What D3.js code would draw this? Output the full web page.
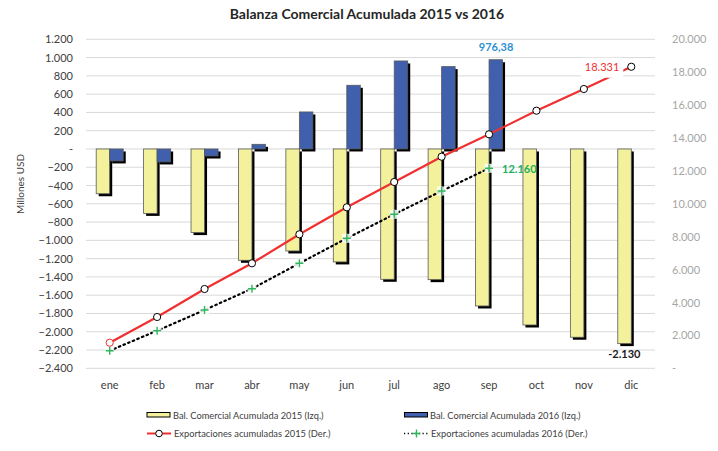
<!DOCTYPE html>
<html><head><meta charset="utf-8">
<script src="https://cdn.jsdelivr.net/npm/d3@7"></script>
<style>body{margin:0;background:#fff}svg{display:block}text{font-family:Lato,"Open Sans",sans-serif}</style>
</head><body><svg id="c" width="718" height="451"></svg>
<script>
const months = ["ene","feb","mar","abr","may","jun","jul","ago","sep","oct","nov","dic"];
const bal2015 = [-490,-705,-915,-1218,-1116,-1236,-1426,-1430,-1718,-1926,-2060,-2130];
const bal2016 = [-131,-142,-77,51,405,697,963,901,976.38];
const exp2015 = [1556,3119,4820,6383,8146,9787,11325,12863,14225,15660,16979,18331];
const exp2016 = [1070,2286,3544,4839,6383,7903,9362,10778,12160];
const leftTicks = d3.range(-2400,1201,200);
const rightTicks = d3.range(0,20001,2000);
const fmt = v => v===0 ? "-" : d3.format(",")(v).replace(/,/g,".");

const svg = d3.select("#c");
const L=86,R=655,T=39.3,B=368.3;
const x = d3.scaleBand().domain(months).range([L,R]).paddingInner(0.43).paddingOuter(0.215);
const yL = d3.scaleLinear().domain([-2400,1200]).range([B,T]);
const yR = d3.scaleLinear().domain([0,20000]).range([B,T]);
const cx = m => x(m)+x.bandwidth()/2;

svg.append("text").attr("x",367).attr("y",19).attr("text-anchor","middle")
  .attr("font-weight","bold").attr("font-size",14).attr("fill","#262626")
  .text("Balanza Comercial Acumulada 2015 vs 2016");

// gridlines
svg.append("g").selectAll("line").data(leftTicks).join("line")
  .attr("x1",L).attr("x2",R).attr("y1",d=>yL(d)).attr("y2",d=>yL(d))
  .attr("stroke","#d9d9d9").attr("stroke-width",1);

// left axis
const gl = svg.append("g").attr("transform",`translate(${L},0)`)
  .call(d3.axisLeft(yL).tickValues(leftTicks).tickFormat(fmt).tickSize(0).tickPadding(13));
gl.select(".domain").remove();
gl.selectAll("text").attr("font-size",11).attr("fill","#404040").attr("font-family","Lato,sans-serif");

// right axis
const gr = svg.append("g").attr("transform",`translate(${R},0)`)
  .call(d3.axisRight(yR).tickValues(rightTicks).tickFormat(fmt).tickSize(0).tickPadding(17));
gr.select(".domain").remove();
gr.selectAll("text").attr("font-size",11).attr("fill","#a6a6a6").attr("font-family","Lato,sans-serif");

// x axis labels
const gx = svg.append("g").attr("transform",`translate(0,${B})`)
  .call(d3.axisBottom(x).tickSize(0).tickPadding(13));
gx.select(".domain").remove();
gx.selectAll("text").attr("font-size",11).attr("fill","#404040").attr("font-family","Lato,sans-serif");

svg.append("text").attr("transform","translate(24,184) rotate(-90)").attr("text-anchor","middle")
  .attr("font-size",10).attr("fill","#404040").text("Millones USD");

const bw = x.bandwidth()/2;
function bars(data, off, fill){
  const g = svg.append("g");
  const d = data.map((v,i)=>({m:months[i],v}));
  g.selectAll(".s").data(d).join("rect")
    .attr("x",e=>x(e.m)+off+2.5).attr("y",e=>Math.min(yL(e.v),yL(0))+2.5)
    .attr("width",bw).attr("height",e=>Math.abs(yL(e.v)-yL(0))).attr("fill","#000");
  g.selectAll(".b").data(d).join("rect")
    .attr("x",e=>x(e.m)+off).attr("y",e=>Math.min(yL(e.v),yL(0)))
    .attr("width",bw).attr("height",e=>Math.abs(yL(e.v)-yL(0)))
    .attr("fill",fill).attr("stroke","#595959").attr("stroke-width",0.8);
}
bars(bal2015,0,"#f3f19b");
bars(bal2016,bw,"#4060ad");

// line 2016 dotted
const line = d3.line().x(d=>cx(d.m)).y(d=>yR(d.v));
const e16 = exp2016.map((v,i)=>({m:months[i],v}));
const e15 = exp2015.map((v,i)=>({m:months[i],v}));
svg.append("path").datum(e16).attr("d",line).attr("fill","none")
  .attr("stroke","#000").attr("stroke-width",2.2).attr("stroke-dasharray","1.5,3.5").attr("stroke-linecap","round");
const pl = svg.append("g").selectAll("g").data(e16).join("g")
  .attr("transform",d=>`translate(${cx(d.m)},${yR(d.v)})`);
pl.append("rect").attr("x",-4.5).attr("y",-4.5).attr("width",9).attr("height",9).attr("fill","#fff").attr("opacity",0.85);
pl.append("path").attr("d","M-4,0H4M0,-4V4").attr("stroke","#2eb85c").attr("stroke-width",1.4);

svg.append("path").datum(e15).attr("d",line).attr("fill","none")
  .attr("stroke","#f03030").attr("stroke-width",2.2);

// white box behind 18.331 label
const lx = cx("dic")-8, ly = yR(exp2015[11]);
svg.append("rect").attr("x",lx-42).attr("y",ly-9).attr("width",42).attr("height",20).attr("fill","#fff");

svg.append("g").selectAll("circle").data(e15).join("circle")
  .attr("cx",d=>cx(d.m)).attr("cy",d=>yR(d.v)).attr("r",3.6)
  .attr("fill","#fff").attr("stroke",(d,i)=>i===0?"#f03030":"#000").attr("stroke-width",1);

// data labels
svg.append("text").attr("x",cx("sep")+7).attr("y",yL(bal2016[8])-9).attr("text-anchor","middle")
  .attr("font-weight","bold").attr("font-size",11).attr("fill","#2f8fd0").text("976,38");
svg.append("text").attr("x",lx-4).attr("y",ly+4).attr("text-anchor","end")
  .attr("font-size",11).attr("fill","#f03030").text("18.331");
svg.append("text").attr("x",cx("sep")+13).attr("y",yR(exp2016[8])+4.5).attr("text-anchor","start")
  .attr("font-weight","bold").attr("font-size",11).attr("fill","#22b060").text("12.160");
svg.append("text").attr("x",cx("dic")-7).attr("y",yL(bal2015[11])+14).attr("text-anchor","middle")
  .attr("font-weight","bold").attr("font-size",11).attr("fill","#1a1a1a").text("-2.130");

// legend
const lg = svg.append("g").attr("font-size",9.3).attr("fill","#404040");
lg.append("rect").attr("x",147).attr("y",412.5).attr("width",23).attr("height",4.5).attr("fill","#f3f19b").attr("stroke","#000").attr("stroke-width",1);
lg.append("text").attr("x",173).attr("y",418.5).text("Bal. Comercial Acumulada 2015 (Izq.)");
lg.append("rect").attr("x",404.5).attr("y",412.5).attr("width",23).attr("height",4.5).attr("fill","#4060ad").attr("stroke","#000").attr("stroke-width",1);
lg.append("text").attr("x",430).attr("y",418.5).text("Bal. Comercial Acumulada 2016 (Izq.)");
lg.append("line").attr("x1",147).attr("x2",171).attr("y1",433.5).attr("y2",433.5).attr("stroke","#f03030").attr("stroke-width",2);
lg.append("circle").attr("cx",159).attr("cy",433.5).attr("r",3.3).attr("fill","#fff").attr("stroke","#000");
lg.append("text").attr("x",174).attr("y",437).text("Exportaciones acumuladas 2015 (Der.)");
lg.append("line").attr("x1",404).attr("x2",429).attr("y1",433.5).attr("y2",433.5).attr("stroke","#000").attr("stroke-width",1.5).attr("stroke-dasharray","1.2,2.5");
lg.append("path").attr("d","M412.5,433.5h8M416.5,429.5v8").attr("stroke","#2eb85c").attr("stroke-width",1.4);
lg.append("text").attr("x",431).attr("y",437).text("Exportaciones acumuladas 2016 (Der.)");
</script></body></html>
